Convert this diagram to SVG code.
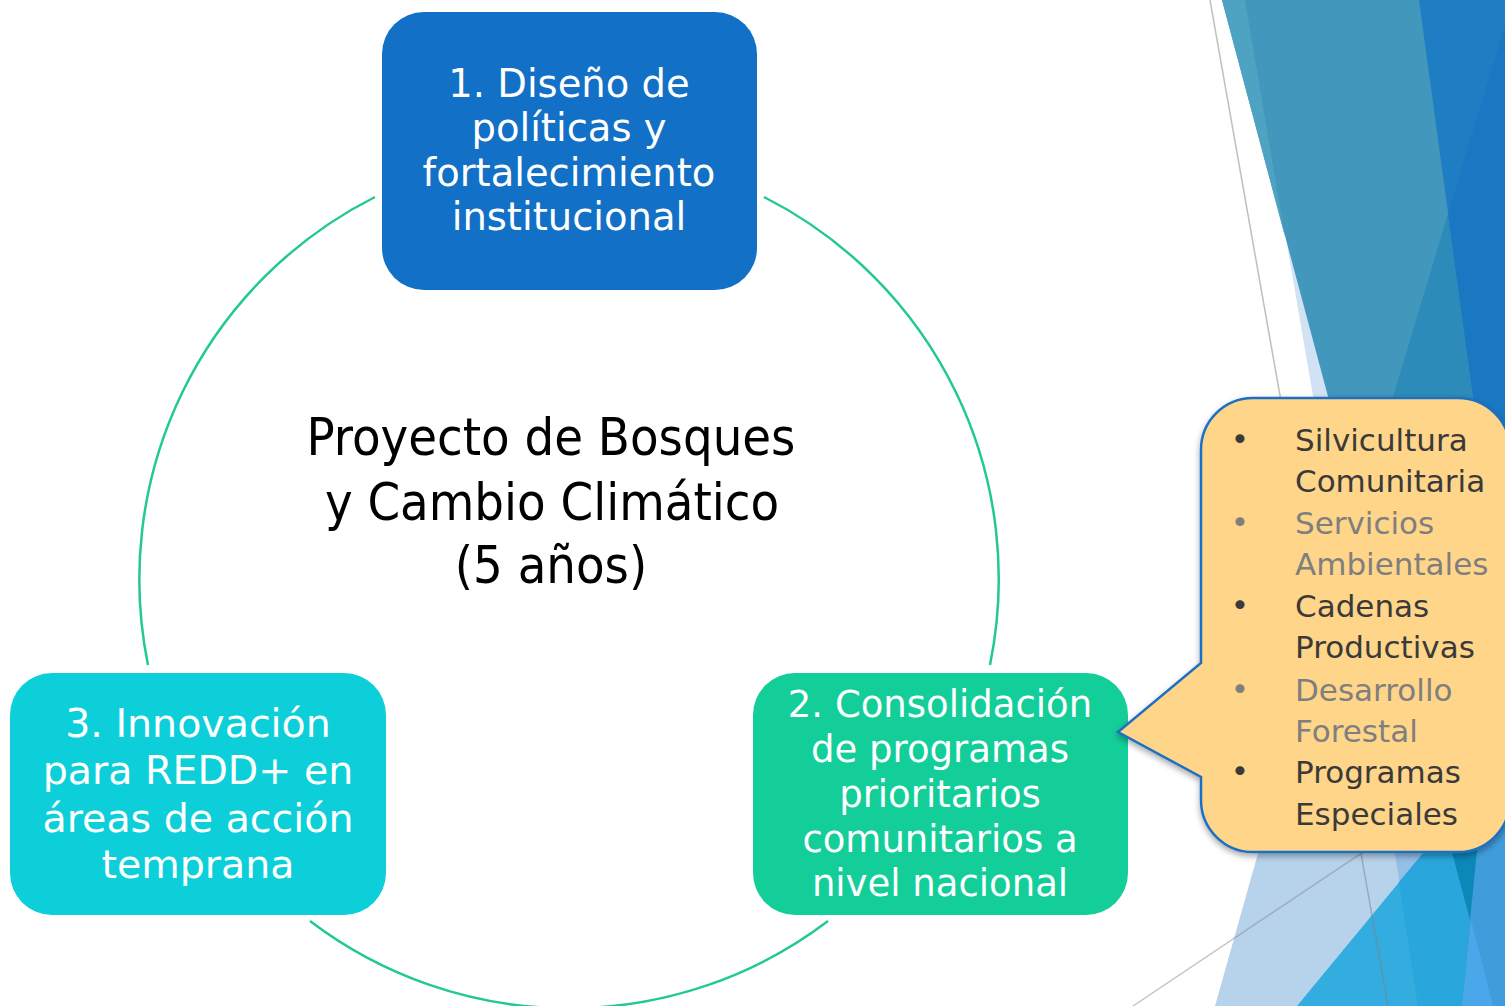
<svg xmlns="http://www.w3.org/2000/svg" width="1505" height="1006" viewBox="0 0 1505 1006">
<defs>
<style>
.node text{font-family:'DejaVu Sans','Liberation Sans',sans-serif;fill:#ffffff;text-anchor:middle}
.ring{fill:none;stroke:#22c993;stroke-width:2.5}
.co text{font-family:'DejaVu Sans','Liberation Sans',sans-serif;font-size:31px}
.dk{fill:#3a3a3a}
.lt{fill:#7f7f7f}
.ctr{font-family:'DejaVu Sans Condensed','DejaVu Sans',sans-serif;font-stretch:condensed;font-size:52px;fill:#000;text-anchor:middle}
</style>
<filter id="sh" x="-10%" y="-10%" width="120%" height="125%">
<feDropShadow dx="0" dy="3" stdDeviation="3" flood-color="#000" flood-opacity="0.35"/>
</filter>
</defs>
<rect width="1505" height="1006" fill="#ffffff"/>
<g id="decoration">
<polygon points="1245,0 1324,460 1505,460 1505,0" fill="#d0e2f3"/>
<polygon points="1222,0 1345,460 1505,460 1505,0" fill="#4197bc"/>
<polygon points="1222,0 1245,0 1285,237" fill="#4ea3c2"/>
<polygon points="1448,214 1380,440 1479,440" fill="#2c8bb8"/>
<polygon points="1419,0 1505,0 1505,440 1479,440" fill="#1f7dc4"/>
<polygon points="1505,25 1448,214 1479,440 1505,440" fill="#1a78c2"/>
<polygon points="1273,800 1215,1006 1505,1006 1505,800" fill="#b7d3ec"/>
<polygon points="1387,800 1418,1006 1505,1006 1505,800" fill="#94bfe6"/>
<polygon points="1467,800 1297,1006 1505,1006 1505,800" fill="#33acdf"/>
<polygon points="1467,800 1399,882 1418,1006 1505,1006 1505,800" fill="#29a6db"/>
<polygon points="1479,830 1505,830 1505,1006 1462,1006 1470,920" fill="#409cdb"/>
<polygon points="1471,920 1462,1006 1493,1006" fill="#4aa8ea"/>
<polygon points="1446,830 1479,830 1470,920" fill="#0b88b8"/>
<line x1="1210" y1="0" x2="1388" y2="1006" stroke="#7f7f7f" stroke-opacity="0.5" stroke-width="1.5"/>
<line x1="1505" y1="757" x2="1133" y2="1006" stroke="#7f7f7f" stroke-opacity="0.45" stroke-width="1.5"/>
</g>
<g id="connectors">
<path class="ring" d="M 764 197 A 428 428 0 0 1 990 665"/>
<path class="ring" d="M 828 921 A 428 428 0 0 1 310 921"/>
<path class="ring" d="M 148 665 A 428 428 0 0 1 375 197"/>
</g>
<g id="node1" class="node">
<rect x="382" y="12" width="375" height="278" rx="42" fill="#1270c6"/>
<text font-size="38.5"><tspan x="569" y="97">1. Diseño de</tspan><tspan x="569" y="141">políticas y</tspan><tspan x="569" y="186">fortalecimiento</tspan><tspan x="569" y="230">institucional</tspan></text>
</g>
<g id="node2" class="node">
<rect x="753" y="673" width="375" height="242" rx="42" fill="#13ce99"/>
<text font-size="37"><tspan x="940" y="717">2. Consolidación</tspan><tspan x="940" y="762">de programas</tspan><tspan x="940" y="807">prioritarios</tspan><tspan x="940" y="852">comunitarios a</tspan><tspan x="940" y="896">nivel nacional</tspan></text>
</g>
<g id="node3" class="node">
<rect x="10" y="673" width="376" height="242" rx="42" fill="#0ccfda"/>
<text font-size="39.5"><tspan x="198" y="737">3. Innovación</tspan><tspan x="198" y="784">para REDD+ en</tspan><tspan x="198" y="832">áreas de acción</tspan><tspan x="198" y="878">temprana</tspan></text>
</g>
<g id="callout" class="co">
<path d="M 1253 398 H 1458 A 52 52 0 0 1 1510 450 V 800 A 52 52 0 0 1 1458 852 H 1253 A 52 52 0 0 1 1201 800 V 777 L 1118 732 L 1201 663 V 450 A 52 52 0 0 1 1253 398 Z" fill="#fed589" stroke="#1e6fc4" stroke-width="2.5" filter="url(#sh)"/>
<text class="dk" x="1240" y="450" text-anchor="middle">•</text>
<text class="dk" x="1295" y="451">Silvicultura</text>
<text class="dk" x="1295" y="492">Comunitaria</text>
<text class="lt" x="1240" y="533" text-anchor="middle">•</text>
<text class="lt" x="1295" y="534">Servicios</text>
<text class="lt" x="1295" y="575">Ambientales</text>
<text class="dk" x="1240" y="616" text-anchor="middle">•</text>
<text class="dk" x="1295" y="617">Cadenas</text>
<text class="dk" x="1295" y="658">Productivas</text>
<text class="lt" x="1240" y="700" text-anchor="middle">•</text>
<text class="lt" x="1295" y="701">Desarrollo</text>
<text class="lt" x="1295" y="742">Forestal</text>
<text class="dk" x="1240" y="782" text-anchor="middle">•</text>
<text class="dk" x="1295" y="783">Programas</text>
<text class="dk" x="1295" y="825">Especiales</text>
</g>
<g id="center">
<text class="ctr"><tspan x="551" y="455">Proyecto de Bosques</tspan><tspan x="552" y="520">y Cambio Climático</tspan><tspan x="551" y="583">(5 años)</tspan></text>
</g>
</svg>
